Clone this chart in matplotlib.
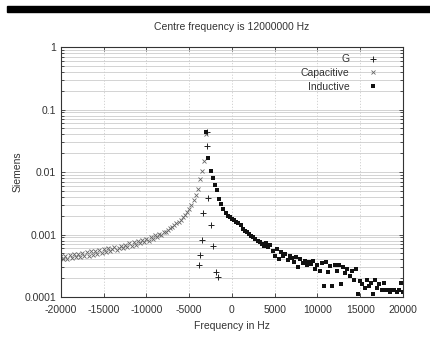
import numpy as np
import matplotlib.pyplot as plt
from matplotlib.patches import Rectangle

plt.rcParams['font.family'] = ['Liberation Sans', 'DejaVu Sans']
plt.rcParams['axes.unicode_minus'] = False

# conductance G, only visible around the resonance
g_freq = [-2960, -2900, -2770, -3350, -2490, -3470, -2190, -3740, -3860, -1870, -1600]
g_vals = [0.043, 0.026, 0.0038, 0.0022, 0.00142, 0.00082, 0.00066, 0.00047, 0.00032, 0.00025, 0.00021]

# capacitive susceptance, sweep below resonance (250 Hz steps)
cap_freq = np.arange(-20000, -2999, 250)
cap_vals = [
    0.00045, 0.00040, 0.00046, 0.00041, 0.00047, 0.00042, 0.00048, 0.00043, 0.00049, 0.00044,
    0.00051, 0.00045, 0.00052, 0.00046, 0.00054, 0.00047, 0.00055, 0.00049, 0.00057, 0.00050,
    0.00059, 0.00052, 0.00061, 0.00055, 0.00058, 0.00063, 0.00057, 0.00060, 0.00066, 0.00060,
    0.00069, 0.00062, 0.00072, 0.00066, 0.00075, 0.00068, 0.00078, 0.00072, 0.00081, 0.00076,
    0.00086, 0.00080, 0.00092, 0.00086, 0.00097, 0.00091, 0.00103, 0.00097, 0.00110, 0.00108,
    0.00118, 0.00125, 0.00133, 0.00141, 0.00150, 0.00160, 0.00172, 0.00188, 0.00205, 0.00228,
    0.00255, 0.0030, 0.0036, 0.0043, 0.0054, 0.0078, 0.0105, 0.0150, 0.040,
]

# inductive susceptance, sweep above resonance
ind_freq = np.arange(-3000, 20001, 250)
ind_vals = [
    0.043, 0.017, 0.0105, 0.0080, 0.0063, 0.0051, 0.0037, 0.0031, 0.0026, 0.0022,
    0.0020, 0.0019, 0.00178, 0.00168, 0.00158, 0.00150, 0.00140, 0.00122, 0.00115, 0.00108,
    0.00102, 0.00096, 0.00091, 0.00086, 0.00080, 0.00076, 0.00071, 0.00066, 0.00072, 0.00062,
    0.00069, 0.00055, 0.00046, 0.00058, 0.00041, 0.00052, 0.00045, 0.00048, 0.00039, 0.00046,
    0.00042, 0.00036, 0.00044, 0.00030, 0.00040, 0.00035, 0.00038, 0.00033, 0.00036, 0.00034,
    0.00037, 0.00028, 0.00032, 0.00026, 0.00035, 0.00015, 0.00036, 0.00025, 0.00031, 0.00015,
    0.00033, 0.00026, 0.00032, 0.00016, 0.00030, 0.00024, 0.00028, 0.00022, 0.00026, 0.00019,
    0.00028, 0.00011, 0.00018, 0.00016, 0.00014, 0.00019, 0.00015, 0.00017, 0.00011, 0.00019,
    0.00014, 0.00016, 0.00013, 0.00017, 0.00013, 0.00013, 0.00012, 0.00013, 0.00013, 0.00012,
    0.00013, 0.00017, 0.00012,
]

fig = plt.figure(figsize=(4.31, 3.38), dpi=100)
ax = fig.add_axes([0.1415, 0.1213, 0.7935, 0.7396])

# black bar across the top of the image
fig.patches.append(Rectangle((7 / 431, 1 - 12 / 338), 1, 6 / 338, transform=fig.transFigure,
                             color="black", zorder=5))

ax.plot(g_freq, g_vals, linestyle="none", marker="+", markersize=4, mew=0.7,
        color="#222222", label="G")
ax.plot(cap_freq, cap_vals, linestyle="none", marker="x", markersize=3.3, mew=0.6,
        color="#666666", label="Capacitive")
ax.plot(ind_freq, ind_vals, linestyle="none", marker="s", markersize=2.2, mew=0,
        color="#111111", label="Inductive")

ax.set_yscale("log")
ax.set_xlim(-20000, 20000)
ax.set_ylim(0.0001, 1)
ax.set_xticks(range(-20000, 20001, 5000))
ax.set_yticks([0.0001, 0.001, 0.01, 0.1, 1])
ax.set_yticklabels(["0.0001", "0.001", "0.01", "0.1", "1"])

ax.grid(True, which="major", axis="x", color="#cccccc", linewidth=0.6, linestyle=(0, (1.5, 2)))
ax.grid(True, which="both", axis="y", color="#cccccc", linewidth=0.6)
ax.tick_params(which="both", direction="in", top=True, right=True, labelsize=7.5,
               colors="#333333", length=3, width=0.6)
ax.tick_params(which="minor", length=2)
ax.tick_params(axis="x", pad=6)
for s in ax.spines.values():
    s.set_color("#333333")
    s.set_linewidth(0.8)

ax.set_title("Centre frequency is 12000000 Hz", fontsize=7.5, color="#333333", pad=12)
ax.set_xlabel("Frequency in Hz", fontsize=7.5, color="#333333", labelpad=4)
ax.set_ylabel("Siemens", fontsize=7.5, color="#333333")
ax.yaxis.set_label_coords(-38 / 342, 0.5)

leg = ax.legend(loc="upper right", bbox_to_anchor=(1 - 15 / 342, 1), frameon=False,
                fontsize=7.5, markerfirst=False, handletextpad=1.5, labelspacing=0.35,
                borderaxespad=0.3, handlelength=1.5)
for t in leg.get_texts():
    t.set_color("#333333")
    t.set_ha("right")

fig.savefig("out.png", dpi=100)
